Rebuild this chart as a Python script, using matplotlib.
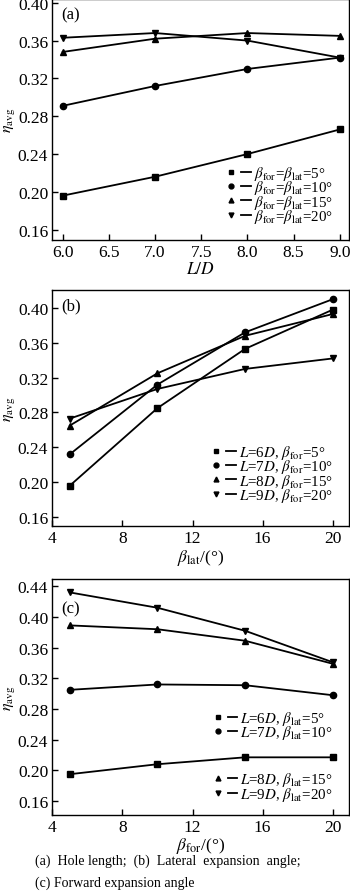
import matplotlib
matplotlib.use("Agg")
import matplotlib.pyplot as plt
from matplotlib.lines import Line2D
from matplotlib.legend_handler import HandlerTuple

plt.rcParams['font.family'] = ['Liberation Serif', 'DejaVu Serif']
plt.rcParams['mathtext.fontset'] = 'stix'

# (a) hole length
ld = [6.0, 7.0, 8.0, 9.0]
a_5 = [0.196, 0.216, 0.240, 0.266]
a_10 = [0.291, 0.312, 0.330, 0.342]
a_15 = [0.348, 0.362, 0.368, 0.365]
a_20 = [0.363, 0.368, 0.360, 0.342]

# (b) lateral expansion angle
beta = [5, 10, 15, 20]
b_6d = [0.196, 0.285, 0.353, 0.398]
b_7d = [0.232, 0.312, 0.372, 0.410]
b_8d = [0.265, 0.325, 0.368, 0.393]
b_9d = [0.273, 0.307, 0.330, 0.342]

# (c) forward expansion angle
c_6d = [0.195, 0.208, 0.217, 0.217]
c_7d = [0.305, 0.312, 0.311, 0.298]
c_8d = [0.389, 0.384, 0.369, 0.339]
c_9d = [0.432, 0.412, 0.382, 0.341]

markers = ['s', 'o', '^', 'v']
labels_a = [r'$\beta_{\rm for}$=$\beta_{\rm lat}$=%d°' % d for d in (5, 10, 15, 20)]
labels_b = [r'$L$=%d$D$, $\beta_{\rm for}$=%d°' % (n, d) for n, d in zip((6, 7, 8, 9), (5, 10, 15, 20))]
labels_c = [r'$L$=%d$D$, $\beta_{\rm lat}$=%d°' % (n, d) for n, d in zip((6, 7, 8, 9), (5, 10, 15, 20))]

fig = plt.figure(figsize=(3.5, 8.95), dpi=100)
W, H = 350.0, 895.0
LEFT, RIGHT = 52.3, 349.0


def make_ax(top, bottom):
    return fig.add_axes([LEFT / W, 1 - bottom / H, (RIGHT - LEFT) / W, (bottom - top) / H])


def style(ax):
    for s in ax.spines.values():
        s.set_linewidth(1.0)
    ax.tick_params(direction='in', length=4, width=1.0, labelsize=12.5, pad=3)
    ax.set_ylabel(r'$\eta_{\rm avg}$', fontsize=11.5)
    ax.yaxis.set_label_coords((17 - LEFT) / (RIGHT - LEFT), 0.5)


def handles():
    hs = []
    for m in markers:
        mk = Line2D([], [], marker=m, color='k', ls='none', markersize=3.5)
        ln = Line2D([], [], color='k', lw=1.3)
        hs.append((mk, ln))
    return hs


leg_kw = dict(frameon=False, fontsize=10.8, labelspacing=-0.24, handlelength=1.6,
              handletextpad=0.2, borderpad=0, handler_map={tuple: HandlerTuple(ndivide=None, pad=0.3)})

# panel (a)
ax1 = make_ax(0, 240.7)
for ys, m in zip([a_5, a_10, a_15, a_20], markers):
    ax1.plot(ld, ys, color='k', lw=1.3, marker=m, markersize=4.5)
ax1.set_xlim(5.887, 9.10)
ax1.set_ylim(0.1494, 0.404)
ax1.set_xticks([6.0, 6.5, 7.0, 7.5, 8.0, 8.5, 9.0])
ax1.set_yticks([0.16, 0.20, 0.24, 0.28, 0.32, 0.36, 0.40])
ax1.set_xlabel(r'$L/D$', fontsize=12.5, labelpad=1)
style(ax1)
ax1.text(0.03, 0.97, '(a)', transform=ax1.transAxes, fontsize=12, va='top')
ax1.legend(handles(), labels_a, loc='lower right', bbox_to_anchor=(0.97, 0.03), **leg_kw)

# panel (b)
ax2 = make_ax(291, 526.7)
for ys, m in zip([b_6d, b_7d, b_8d, b_9d], markers):
    ax2.plot(beta, ys, color='k', lw=1.3, marker=m, markersize=4.5)
ax2.set_xlim(4, 20.93)
ax2.set_ylim(0.150, 0.4206)
ax2.set_xticks([4, 8, 12, 16, 20])
ax2.set_yticks([0.16, 0.20, 0.24, 0.28, 0.32, 0.36, 0.40])
ax2.set_xlabel(r'$\beta_{\rm lat}$/(°)', fontsize=12.5, labelpad=1)
style(ax2)
ax2.text(0.03, 0.97, '(b)', transform=ax2.transAxes, fontsize=12, va='top')
ax2.legend(handles(), labels_b, loc='lower right', bbox_to_anchor=(0.97, 0.06), **leg_kw)

# panel (c)
ax3 = make_ax(580, 816)
for ys, m in zip([c_6d, c_7d, c_8d, c_9d], markers):
    ax3.plot(beta, ys, color='k', lw=1.3, marker=m, markersize=4.5)
ax3.set_xlim(4, 20.93)
ax3.set_ylim(0.1418, 0.4495)
ax3.set_xticks([4, 8, 12, 16, 20])
ax3.set_yticks([0.16, 0.20, 0.24, 0.28, 0.32, 0.36, 0.40, 0.44])
ax3.set_xlabel(r'$\beta_{\rm for}$/(°)', fontsize=12.5, labelpad=0)
style(ax3)
ax3.text(0.03, 0.91, '(c)', transform=ax3.transAxes, fontsize=12, va='top')
hc = handles()
leg1 = ax3.legend(hc[:2], labels_c[:2], loc='lower right', bbox_to_anchor=(0.97, 0.28), **leg_kw)
ax3.add_artist(leg1)
ax3.legend(hc[2:], labels_c[2:], loc='lower right', bbox_to_anchor=(0.97, 0.02), **leg_kw)

# caption
fig.text(35 / W, 1 - 861.7 / H, '(a)  Hole length;  (b)  Lateral  expansion  angle;',
         fontsize=10, va='center', ha='left')
fig.text(35 / W, 1 - 883 / H, '(c) Forward expansion angle', fontsize=10, va='center', ha='left')

fig.savefig('out.png', dpi=100)
